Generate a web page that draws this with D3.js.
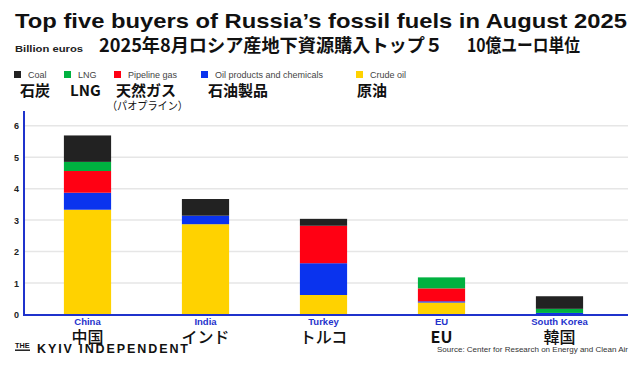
<!DOCTYPE html>
<html><head><meta charset="utf-8">
<script src="https://cdn.jsdelivr.net/npm/d3@7"></script>
<style>
html,body{margin:0;padding:0;background:#fff;}
svg{display:block;}
</style></head>
<body>
<svg id="c" width="640" height="365"></svg>
<script>
// ---- data ----
const countries = ["China", "India", "Turkey", "EU", "South Korea"];
const countriesJa = ["中国", "インド", "トルコ", "EU", "韓国"];
const seriesKeys = ["Crude oil", "Oil products and chemicals", "Pipeline gas", "LNG", "Coal"];
const crudeOil     = [3.33, 2.87, 0.62, 0.38, 0.00];
const oilProducts  = [0.54, 0.27, 1.01, 0.04, 0.05];
const pipelineGas  = [0.69, 0.00, 1.19, 0.41, 0.00];
const lng          = [0.29, 0.00, 0.00, 0.35, 0.13];
const coal         = [0.84, 0.53, 0.22, 0.00, 0.40];
const yTicks = [0, 1, 2, 3, 4, 5, 6];
const legendKeys = ["Coal", "LNG", "Pipeline gas", "Oil products and chemicals", "Crude oil"];
const legendJa = ["石炭", "LNG", "天然ガス", "石油製品", "原油"];
const colors = {"Coal":"#222222","LNG":"#00b140","Pipeline gas":"#ff0013","Oil products and chemicals":"#0a33ee","Crude oil":"#ffd200"};

const rows = countries.map((c,i)=>({country:c,"Crude oil":crudeOil[i],"Oil products and chemicals":oilProducts[i],"Pipeline gas":pipelineGas[i],"LNG":lng[i],"Coal":coal[i]}));

const svg = d3.select("#c");
const blue = "#1f33cc";

// title
svg.append("text").attr("x",15).attr("y",27.5)
  .attr("font-family","Liberation Sans, Arial, sans-serif").attr("font-weight","bold")
  .attr("font-size",20.5).attr("fill","#111")
  .attr("textLength",612).attr("lengthAdjust","spacingAndGlyphs")
  .text("Top five buyers of Russia’s fossil fuels in August 2025");
svg.append("text").attr("x",15).attr("y",52)
  .attr("font-family","Liberation Sans, Arial, sans-serif").attr("font-weight","bold")
  .attr("font-size",9.5).attr("fill","#222")
  .attr("textLength",68).attr("lengthAdjust","spacingAndGlyphs")
  .text("Billion euros");
svg.append("text").attr("x",99).attr("y",52)
  .attr("font-family","Noto Sans CJK JP").attr("font-weight","bold")
  .attr("font-size",18).attr("fill","#111")
  .attr("textLength",344).attr("lengthAdjust","spacingAndGlyphs")
  .text("2025年8月ロシア産地下資源購入トップ５");
svg.append("text").attr("x",467).attr("y",52)
  .attr("font-family","Noto Sans CJK JP").attr("font-weight","bold")
  .attr("font-size",18).attr("fill","#111")
  .attr("textLength",113).attr("lengthAdjust","spacingAndGlyphs")
  .text("10億ユーロ単位");

// legend
const legX = [14, 64, 114, 201, 356];
const legJaX = [20, 70, 116, 208, 357];
const leg = svg.append("g");
legendKeys.forEach((k,i)=>{
  leg.append("rect").attr("x",legX[i]).attr("y",71).attr("width",7).attr("height",7).attr("fill",colors[k]);
  leg.append("text").attr("x",legX[i]+14).attr("y",77.5)
    .attr("font-family","Liberation Sans, Arial, sans-serif").attr("font-size",9).attr("fill","#444")
    .text(k);
  leg.append("text").attr("x",legJaX[i]).attr("y",95.5)
    .attr("font-family","Noto Sans CJK JP").attr("font-weight","bold").attr("font-size",15).attr("fill","#111")
    .text(legendJa[i]);
});
leg.append("text").attr("x",107).attr("y",110)
  .attr("font-family","Noto Sans CJK JP").attr("font-size",11).attr("fill","#111")
  .attr("textLength",81).attr("lengthAdjust","spacingAndGlyphs")
  .text("（パオプライン）");

// scales
const x = d3.scaleBand().domain(countries).range([28.5, 618.5]).paddingInner(0.6).paddingOuter(0.3);
const y = d3.scaleLinear().domain([0,6]).range([314.5, 125.7]);

// gridlines
svg.append("g").selectAll("line").data(yTicks.filter(t=>t>0)).join("line")
  .attr("x1",24).attr("x2",628).attr("y1",d=>y(d)).attr("y2",d=>y(d))
  .attr("stroke","#e6e6e6").attr("stroke-width",1.5);

// y tick labels
svg.append("g").selectAll("text").data(yTicks).join("text")
  .attr("x",19).attr("y",d=>y(d)+3.5).attr("text-anchor","end")
  .attr("font-family","Liberation Sans, Arial, sans-serif").attr("font-weight","bold")
  .attr("font-size",9).attr("fill","#222").text(d=>d);

// bars
const stack = d3.stack().keys(seriesKeys)(rows);
svg.append("g").selectAll("g").data(stack).join("g")
  .attr("fill",d=>colors[d.key])
  .selectAll("rect").data(d=>d.filter(s=>s[1]-s[0]>0)).join("rect")
  .attr("x",d=>x(d.data.country)).attr("width",x.bandwidth())
  .attr("y",d=>y(d[1])).attr("height",d=>y(d[0])-y(d[1]));

// axes lines
svg.append("line").attr("x1",24).attr("x2",24).attr("y1",111).attr("y2",315.5).attr("stroke",blue).attr("stroke-width",2);
svg.append("line").attr("x1",23).attr("x2",628).attr("y1",315).attr("y2",315).attr("stroke",blue).attr("stroke-width",2);

// x labels
const xl = svg.append("g");
countries.forEach((c,i)=>{
  const cx = x(c)+x.bandwidth()/2;
  xl.append("text").attr("x",cx).attr("y",325).attr("text-anchor","middle")
    .attr("font-family","Liberation Sans, Arial, sans-serif").attr("font-weight","bold")
    .attr("font-size",9.5).attr("fill",blue).text(c);
  xl.append("text").attr("x",cx).attr("y",343).attr("text-anchor","middle")
    .attr("font-family","Noto Sans CJK JP").attr("font-weight", c==="EU"?"bold":"500")
    .attr("font-size",16).attr("fill","#111").text(countriesJa[i]);
});

// footer logo
svg.append("text").attr("x",15).attr("y",348)
  .attr("font-family","Liberation Sans, Arial, sans-serif").attr("font-weight","bold")
  .attr("font-size",6.5).attr("fill","#111").attr("textLength",14.5).attr("lengthAdjust","spacingAndGlyphs").text("THE");
svg.append("rect").attr("x",15).attr("y",349.5).attr("width",15).attr("height",1.4).attr("fill","#111");
svg.append("text").attr("x",37).attr("y",352.5)
  .attr("font-family","Liberation Sans, Arial, sans-serif").attr("font-weight","bold")
  .attr("font-size",12.5).attr("fill","#111")
  .attr("textLength",151).attr("lengthAdjust","spacing")
  .text("KYIV INDEPENDENT");

// source
svg.append("text").attr("x",437).attr("y",352)
  .attr("font-family","Liberation Sans, Arial, sans-serif").attr("font-size",8).attr("fill","#333")
  .attr("textLength",191).attr("lengthAdjust","spacingAndGlyphs")
  .text("Source: Center for Research on Energy and Clean Air");
</script>
</body></html>
